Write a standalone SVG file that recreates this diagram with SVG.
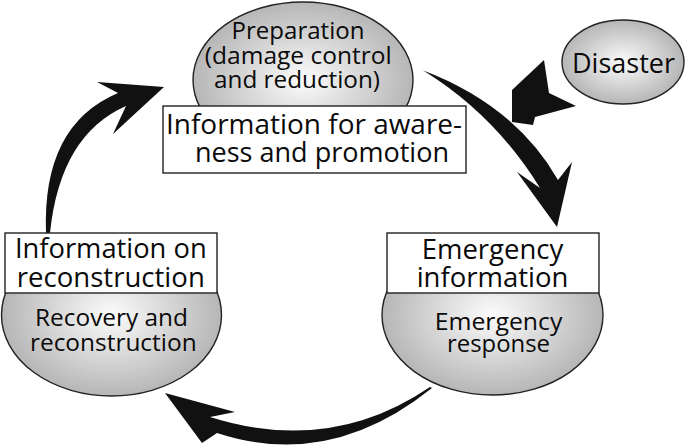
<svg xmlns="http://www.w3.org/2000/svg" width="685" height="446" viewBox="0 0 685 446">
<style>
.bg{fill:#ffffff}
.ell{fill:url(#g);stroke:#222;stroke-width:1.4}
.box{fill:#ffffff;stroke:#222;stroke-width:1.4}
.t{font-family:"Open Sans","DejaVu Sans",sans-serif;fill:#0a0a0a;text-anchor:middle}
.big{font-size:27.5px}
.sm{font-size:23.5px}
.arr{fill:#111;stroke:none}
</style>
<defs>
<radialGradient id="g" cx="0.5" cy="0.5" r="0.5">
<stop offset="0" stop-color="#fcfcfc"/>
<stop offset="1" stop-color="#b6b6b6"/>
</radialGradient>
</defs>
<rect class="bg" x="0" y="0" width="685" height="446"/>
<g id="connectors">
<path class="arr" d="M422,70 Q515,105 558,180 L572,162 L557,227 L517,172 L540,188 Q495,115 424,71 Z"/>
<path class="arr" d="M432,388 Q330,470 217,433 L202,443 L165,393 L235,412 L210,417 Q330,455 430,387 Z"/>
<path class="arr" d="M46,233 Q42,125 118,93 L97,82 L164,87 L113,134 L126,106 Q60,135 50,233 Z"/>
<path class="arr" d="M544,60 L549,93 L576,106 L535,117 L533,125 L512,122 L512,90 Z"/>
</g>
<g id="preparation">
<ellipse class="ell" cx="303" cy="80" rx="110" ry="78"/>
<text class="t sm"><tspan x="298" y="39" textLength="133" lengthAdjust="spacingAndGlyphs">Preparation</tspan><tspan x="298.3" y="63.5" textLength="187" lengthAdjust="spacingAndGlyphs">(damage control</tspan><tspan x="297" y="87.5" textLength="166" lengthAdjust="spacingAndGlyphs">and reduction)</tspan></text>
<rect class="box" x="163" y="106" width="303" height="67"/>
<text class="t big"><tspan x="314" y="133.5" textLength="296" lengthAdjust="spacingAndGlyphs">Information for aware-</tspan><tspan x="322" y="162" textLength="254" lengthAdjust="spacingAndGlyphs">ness and promotion</tspan></text>
</g>
<g id="disaster">
<ellipse class="ell" cx="623" cy="62" rx="61" ry="42"/>
<text class="t big" x="623.5" y="72.5" textLength="103" lengthAdjust="spacingAndGlyphs">Disaster</text>
</g>
<g id="emergency">
<ellipse class="ell" cx="492.5" cy="315" rx="110.5" ry="80"/>
<rect class="box" x="387" y="233" width="212" height="60"/>
<text class="t big"><tspan x="492.5" y="258.5" textLength="141.6" lengthAdjust="spacingAndGlyphs">Emergency</tspan><tspan x="492.5" y="287" textLength="151.7" lengthAdjust="spacingAndGlyphs">information</tspan></text>
<text class="t sm"><tspan x="498.5" y="330" textLength="127.7" lengthAdjust="spacingAndGlyphs">Emergency</tspan><tspan x="498.5" y="352" textLength="103" lengthAdjust="spacingAndGlyphs">response</tspan></text>
</g>
<g id="recovery">
<ellipse class="ell" cx="111.5" cy="315" rx="110" ry="81"/>
<rect class="box" x="5" y="233" width="212" height="60"/>
<text class="t big"><tspan x="110.8" y="257.5" textLength="191.7" lengthAdjust="spacingAndGlyphs">Information on</tspan><tspan x="110.8" y="287" textLength="188" lengthAdjust="spacingAndGlyphs">reconstruction</tspan></text>
<text class="t sm"><tspan x="111.5" y="326" textLength="153" lengthAdjust="spacingAndGlyphs">Recovery and</tspan><tspan x="113.3" y="350.5" textLength="166.7" lengthAdjust="spacingAndGlyphs">reconstruction</tspan></text>
</g>
</svg>
